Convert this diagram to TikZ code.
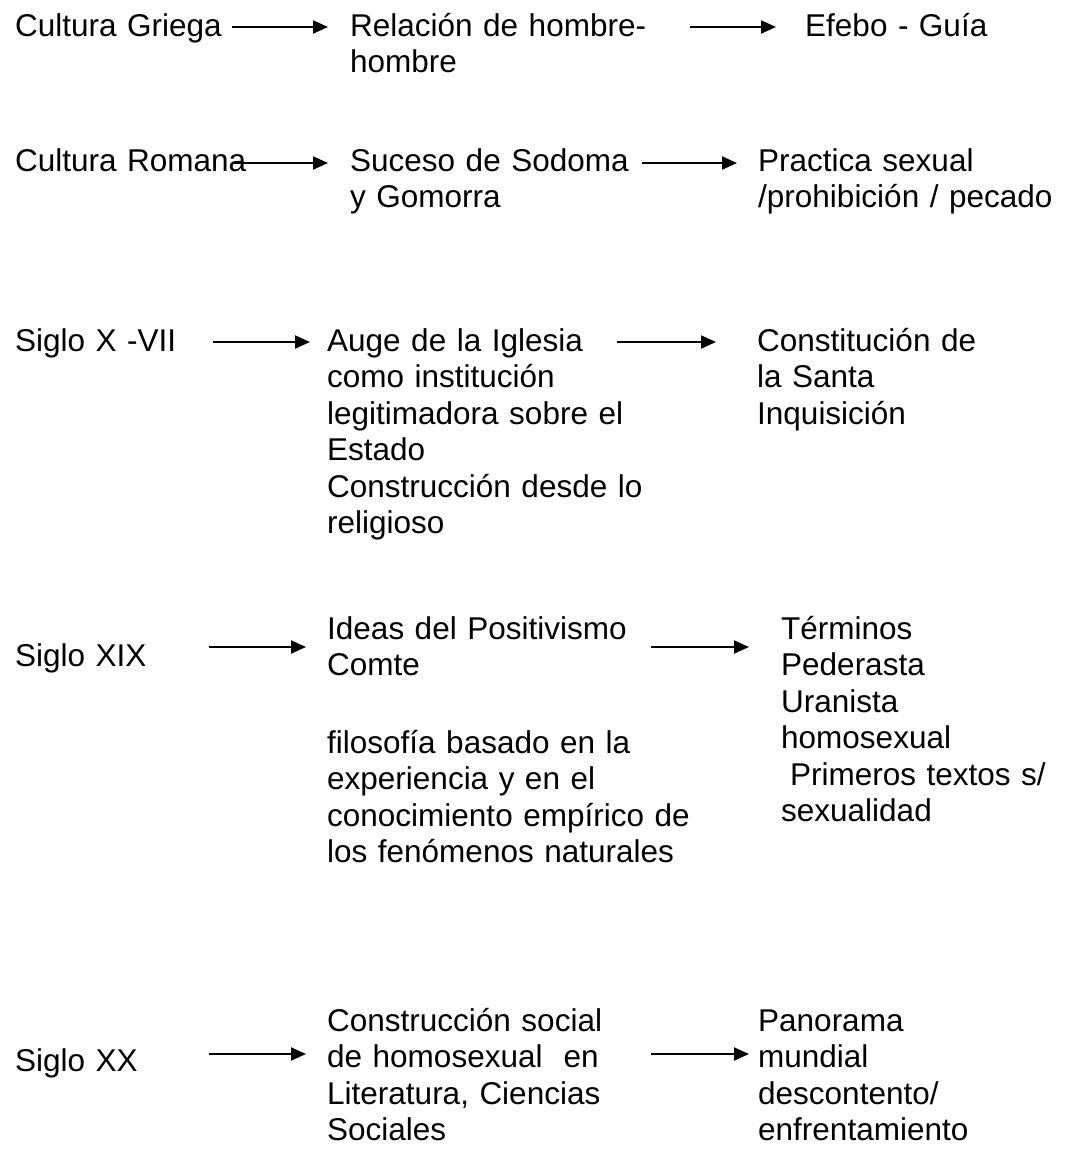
\documentclass[tikz,border=0pt]{standalone}
\usepackage{fontspec}
\setmainfont{Liberation Sans}
\usetikzlibrary{arrows.meta}
\begin{document}
\begin{tikzpicture}[x=1pt,y=-1pt]
		\tikzset{texto/.style = {anchor=north west, yshift=25.55pt, align=left, text width=440pt, inner sep=0pt, font=\fontsize{31.5}{36.5}\selectfont, execute at begin node=\strut}}
		\tikzset{flecha/.style = {line width=2pt, -{Triangle[length=15pt,width=13pt]}}}

		\useasboundingbox (0,0) rectangle (1066,1152);

		% los nodos se colocan por la linea base de su primera linea
		\node[texto] (I_1) at (15,36) {Cultura Griega};
		\node[texto] (C_1) at (350,36) {Relación de hombre-\\hombre};
		\node[texto] (D_1) at (805,36) {Efebo - Guía};

		\node[texto] (I_2) at (15,171) {Cultura Romana};
		\node[texto] (C_2) at (350,171) {Suceso de Sodoma\\y Gomorra};
		\node[texto] (D_2) at (758,171) {Practica sexual\\/prohibición / pecado};

		\node[texto] (I_3) at (15,351) {Siglo X -VII};
		\node[texto] (C_3) at (327,351) {Auge de la Iglesia\\como institución\\legitimadora sobre el\\Estado\\Construcción desde lo\\religioso};
		\node[texto] (D_3) at (757,351) {Constitución de\\la Santa\\Inquisición};

		\node[texto] (I_4) at (15,666) {Siglo XIX};
		\node[texto] (C_4) at (327,639) {Ideas del Positivismo\\Comte};
		\node[texto] (E_4) at (327,753) {filosofía basado en la\\experiencia y en el\\conocimiento empírico de\\los fenómenos naturales};
		\node[texto] (D_4) at (781,639) {Términos\\Pederasta\\Uranista\\homosexual\\\hspace*{0.28em}Primeros textos s/\\sexualidad};

		\node[texto] (I_5) at (15,1071) {Siglo XX};
		\node[texto] (C_5) at (327,1031) {Construcción social\\de homosexual\ \ en\\Literatura, Ciencias\\Sociales};
		\node[texto] (D_5) at (758,1031) {Panorama\\mundial\\descontento/\\enfrentamiento};

		% puntas de las flechas
		\coordinate (a_1) at (232,27);   \coordinate (b_1) at (328,27);
		\coordinate (c_1) at (690,27);   \coordinate (d_1) at (776,27);
		\coordinate (a_2) at (233,163);  \coordinate (b_2) at (328,163);
		\coordinate (c_2) at (642,163);  \coordinate (d_2) at (737,163);
		\coordinate (a_3) at (213,342);  \coordinate (b_3) at (310,342);
		\coordinate (c_3) at (617,342);  \coordinate (d_3) at (716,342);
		\coordinate (a_4) at (209,647);  \coordinate (b_4) at (306,647);
		\coordinate (c_4) at (651,647);  \coordinate (d_4) at (749,647);
		\coordinate (a_5) at (209,1054); \coordinate (b_5) at (306,1054);
		\coordinate (c_5) at (651,1054); \coordinate (d_5) at (749,1054);

		\foreach \i in {1,...,5} {
			\draw[flecha] (a_\i) -- (b_\i);
			\draw[flecha] (c_\i) -- (d_\i);
		}
	\end{tikzpicture}
\end{document}
